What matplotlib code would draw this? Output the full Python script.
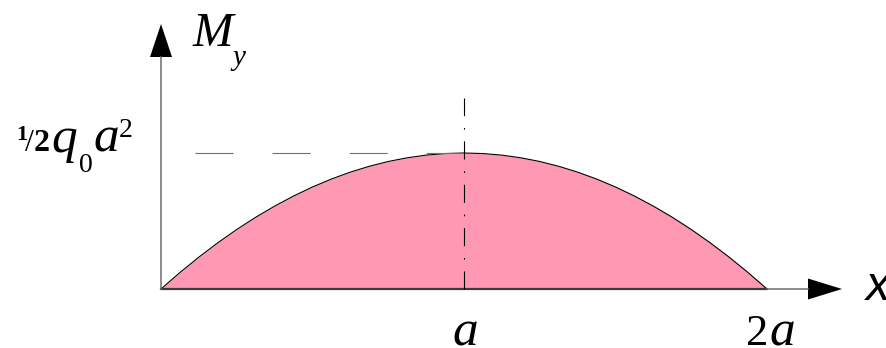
import numpy as np
import matplotlib.pyplot as plt
from matplotlib.patches import Polygon

plt.rcParams['lines.scale_dashes'] = False
plt.rcParams['mathtext.fontset'] = 'custom'
plt.rcParams['mathtext.rm'] = 'Liberation Serif'
plt.rcParams['mathtext.it'] = 'Liberation Serif:italic'
plt.rcParams['mathtext.bf'] = 'Liberation Serif:bold'

# bending moment diagram, x in units of a, M in units of q0*a^2
x_pos = [0, 0.0625, 0.125, 0.1875, 0.25, 0.3125, 0.375, 0.4375, 0.5,
         0.5625, 0.625, 0.6875, 0.75, 0.8125, 0.875, 0.9375, 1.0,
         1.0625, 1.125, 1.1875, 1.25, 1.3125, 1.375, 1.4375, 1.5,
         1.5625, 1.625, 1.6875, 1.75, 1.8125, 1.875, 1.9375, 2.0]
m_val = [0, 0.0605, 0.1172, 0.1699, 0.2188, 0.2637, 0.3047, 0.3418, 0.375,
         0.4043, 0.4297, 0.4512, 0.4688, 0.4824, 0.4922, 0.4980, 0.5,
         0.4980, 0.4922, 0.4824, 0.4688, 0.4512, 0.4297, 0.4043, 0.375,
         0.3418, 0.3047, 0.2637, 0.2188, 0.1699, 0.1172, 0.0605, 0]
m_peak = 0.5
x_peak = 1.0

W, H = 887, 348
px_x = 303.0   # pixels per a
px_y = 272.0   # pixels per unit moment
x0_px, y0_px = 161, 289

fig = plt.figure(figsize=(W / 100, H / 100), dpi=100)
ax = fig.add_axes([0, 0, 1, 1])
ax.set_xlim(-x0_px / px_x, (W - x0_px) / px_x)
ax.set_ylim(-(H - y0_px) / px_y, y0_px / px_y)
ax.axis('off')

pink = '#ff98b2'
gray = '#6e6e6e'

# filled diagram
ax.fill_between(x_pos, m_val, 0, color=pink, lw=0)
ax.plot(x_pos, m_val, color='black', lw=0.8, solid_joinstyle='round')
ax.plot([x_pos[0], x_pos[-1]], [0, 0], color='#3a3a3a', lw=1.6)

# y axis with arrow
y_base = (y0_px - 57) / px_y
y_tip = (y0_px - 24) / px_y
ax.plot([0, 0], [0, y_base], color=gray, lw=1.1)
hw = 11 / px_x
ax.add_patch(Polygon([[-hw, y_base], [hw, y_base], [0, y_tip]],
                     closed=True, color='black', lw=0))

# x axis continuation with arrow
x_base = (808 - x0_px) / px_x
x_tip = (842 - x0_px) / px_x
ax.plot([x_pos[-1], x_base], [0, 0], color=gray, lw=1.1)
hh = 10.5 / px_y
ax.add_patch(Polygon([[x_base, -hh], [x_base, hh], [x_tip, 0]],
                     closed=True, color='black', lw=0))

# dashed level of the maximum
ax.plot([(195 - x0_px) / px_x, x_peak], [m_peak, m_peak], color=gray, lw=0.8,
        linestyle=(0, (27.4, 28.1)))
# dash-dot line through the peak
ax.plot([x_peak, x_peak], [0, (y0_px - 98) / px_y], color='black', lw=0.8,
        linestyle=(0, (13, 8.5, 1.2, 8.5)))

serif = 'Liberation Serif'


def put(x, y, s, size, style='italic', weight='normal', family=serif):
    fig.text(x / W, 1 - y / H, s, fontsize=size, fontstyle=style,
             fontweight=weight, family=family, ha='left', va='baseline')


# axis titles
put(193, 46, 'M', 35)
put(232, 65, 'y', 21)
put(866, 300, 'x', 35, family='Liberation Sans')

# peak value label  1/2 q0 a^2
put(16, 152, r'$^{\mathbf{1}}\!/\mathbf{2}$', 23, style='normal')
put(51, 152, 'q', 37)
put(79, 172, '0', 20, style='normal')
put(93, 152, 'a', 37)
put(119, 137, '2', 20, style='normal')

# x labels
put(452, 346, 'a', 37)
put(746, 345, '2', 32, style='normal')
put(769, 345, 'a', 37)

fig.savefig('out.png', dpi=100)
